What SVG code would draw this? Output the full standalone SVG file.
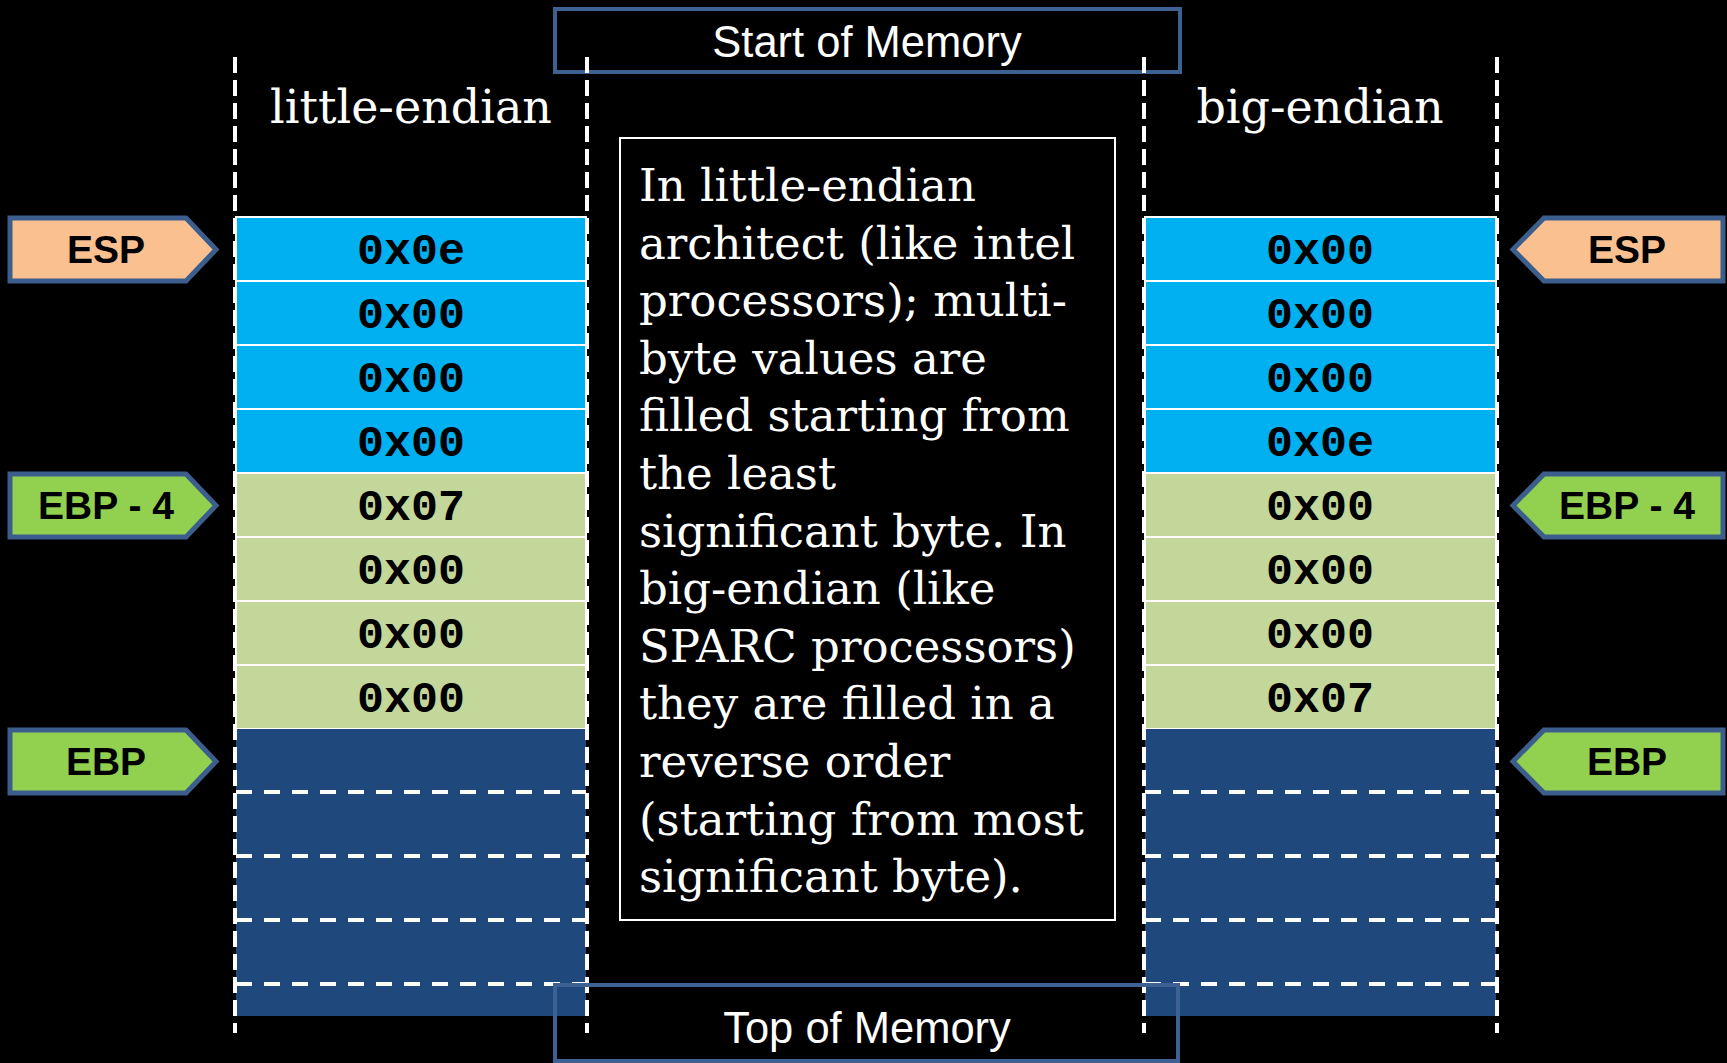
<svg xmlns="http://www.w3.org/2000/svg" width="1727" height="1063" viewBox="0 0 1727 1063">
<style>
.bg{fill:#000}
.cyan{fill:#00b0f0;stroke:#fff;stroke-width:2}
.lgreen{fill:#c4d79b;stroke:#fff;stroke-width:2}
.dark{fill:#1f497d}
.vdash{stroke:#fff;stroke-width:4;stroke-dasharray:16 7;fill:none}
.hdash{stroke:#fff;stroke-width:4;stroke-dasharray:16 12;fill:none}
.mem{fill:none;stroke:#3c6192;stroke-width:4}
.memtxt{font-family:"Liberation Sans",Arial,sans-serif;font-size:43.5px;fill:#fff;text-anchor:middle}
.hdr{font-family:"DejaVu Serif",serif;font-size:46px;fill:#fff;text-anchor:middle}
.val{font-family:"Liberation Mono","Courier New",monospace;font-weight:bold;font-size:45px;fill:#000;text-anchor:middle}
.body{font-family:"DejaVu Serif",serif;font-size:45px;fill:#fff}
.ptr{stroke:#3b5e8c;stroke-width:5;stroke-linejoin:miter}
.esp{fill:#fac090}
.ebp{fill:#92d050}
.ptxt{font-family:"Liberation Sans",Arial,sans-serif;font-weight:bold;font-size:39px;fill:#000;text-anchor:middle}
</style>
<rect class="bg" x="0" y="0" width="1727" height="1063"/>

<g id="start-of-memory">
<rect class="mem" x="555" y="9" width="625" height="63"/>
<text class="memtxt" x="867" y="57">Start of Memory</text>
</g>

<g id="little-endian-stack">
<text class="hdr" x="411" y="123">little-endian</text>
<rect class="cyan" x="236" y="217" width="350" height="64"/>
<rect class="cyan" x="236" y="281" width="350" height="64"/>
<rect class="cyan" x="236" y="345" width="350" height="64"/>
<rect class="cyan" x="236" y="409" width="350" height="64"/>
<rect class="lgreen" x="236" y="473" width="350" height="64"/>
<rect class="lgreen" x="236" y="537" width="350" height="64"/>
<rect class="lgreen" x="236" y="601" width="350" height="64"/>
<rect class="lgreen" x="236" y="665" width="350" height="64"/>
<rect class="dark" x="236" y="729" width="350" height="287"/>
<line class="hdash" x1="236" y1="792" x2="586" y2="792"/>
<line class="hdash" x1="236" y1="856" x2="586" y2="856"/>
<line class="hdash" x1="236" y1="920" x2="586" y2="920"/>
<line class="hdash" x1="236" y1="984" x2="586" y2="984"/>
<text class="val" x="411" y="264">0x0e</text>
<text class="val" x="411" y="328">0x00</text>
<text class="val" x="411" y="392">0x00</text>
<text class="val" x="411" y="456">0x00</text>
<text class="val" x="411" y="520">0x07</text>
<text class="val" x="411" y="584">0x00</text>
<text class="val" x="411" y="648">0x00</text>
<text class="val" x="411" y="712">0x00</text>
<line class="vdash" x1="235" y1="57" x2="235" y2="1033"/>
<line class="vdash" x1="587" y1="57" x2="587" y2="1033"/>
</g>

<g id="big-endian-stack">
<text class="hdr" x="1320" y="123">big-endian</text>
<rect class="cyan" x="1145" y="217" width="351" height="64"/>
<rect class="cyan" x="1145" y="281" width="351" height="64"/>
<rect class="cyan" x="1145" y="345" width="351" height="64"/>
<rect class="cyan" x="1145" y="409" width="351" height="64"/>
<rect class="lgreen" x="1145" y="473" width="351" height="64"/>
<rect class="lgreen" x="1145" y="537" width="351" height="64"/>
<rect class="lgreen" x="1145" y="601" width="351" height="64"/>
<rect class="lgreen" x="1145" y="665" width="351" height="64"/>
<rect class="dark" x="1145" y="729" width="351" height="287"/>
<line class="hdash" x1="1145" y1="792" x2="1496" y2="792"/>
<line class="hdash" x1="1145" y1="856" x2="1496" y2="856"/>
<line class="hdash" x1="1145" y1="920" x2="1496" y2="920"/>
<line class="hdash" x1="1145" y1="984" x2="1496" y2="984"/>
<text class="val" x="1320" y="264">0x00</text>
<text class="val" x="1320" y="328">0x00</text>
<text class="val" x="1320" y="392">0x00</text>
<text class="val" x="1320" y="456">0x0e</text>
<text class="val" x="1320" y="520">0x00</text>
<text class="val" x="1320" y="584">0x00</text>
<text class="val" x="1320" y="648">0x00</text>
<text class="val" x="1320" y="712">0x07</text>
<line class="vdash" x1="1144" y1="57" x2="1144" y2="1033"/>
<line class="vdash" x1="1497" y1="57" x2="1497" y2="1033"/>
</g>

<g id="explanation">
<rect x="620" y="138" width="495" height="782" fill="none" stroke="#fff" stroke-width="2"/>
<text class="body" x="639" y="201">In little-endian</text>
<text class="body" x="639" y="258.6">architect (like intel</text>
<text class="body" x="639" y="316.2">processors); multi-</text>
<text class="body" x="639" y="373.8">byte values are</text>
<text class="body" x="639" y="431.4">filled starting from</text>
<text class="body" x="639" y="489">the least</text>
<text class="body" x="639" y="546.6">significant byte. In</text>
<text class="body" x="639" y="604.2">big-endian (like</text>
<text class="body" x="639" y="661.8">SPARC processors)</text>
<text class="body" x="639" y="719.4">they are filled in a</text>
<text class="body" x="639" y="777">reverse order</text>
<text class="body" x="639" y="834.6">(starting from most</text>
<text class="body" x="639" y="892.2">significant byte).</text>
</g>

<g id="top-of-memory">
<rect class="mem" x="555" y="985" width="623" height="76"/>
<text class="memtxt" x="867" y="1043">Top of Memory</text>
</g>

<g id="pointers">
<g id="ptr-left-esp">
<polygon class="ptr esp" points="10,218 186,218 216,249.5 186,281 10,281"/>
<text class="ptxt" x="106" y="263">ESP</text>
</g>
<g id="ptr-left-ebp4">
<polygon class="ptr ebp" points="10,474 186,474 216,505.5 186,537 10,537"/>
<text class="ptxt" x="106" y="519">EBP - 4</text>
</g>
<g id="ptr-left-ebp">
<polygon class="ptr ebp" points="10,730 186,730 216,761.5 186,793 10,793"/>
<text class="ptxt" x="106" y="775">EBP</text>
</g>
<g id="ptr-right-esp">
<polygon class="ptr esp" points="1723,218 1544,218 1513,249.5 1544,281 1723,281"/>
<text class="ptxt" x="1627" y="263">ESP</text>
</g>
<g id="ptr-right-ebp4">
<polygon class="ptr ebp" points="1723,474 1544,474 1513,505.5 1544,537 1723,537"/>
<text class="ptxt" x="1627" y="519">EBP - 4</text>
</g>
<g id="ptr-right-ebp">
<polygon class="ptr ebp" points="1723,730 1544,730 1513,761.5 1544,793 1723,793"/>
<text class="ptxt" x="1627" y="775">EBP</text>
</g>
</g>
<g id="connectors"></g>
</svg>
